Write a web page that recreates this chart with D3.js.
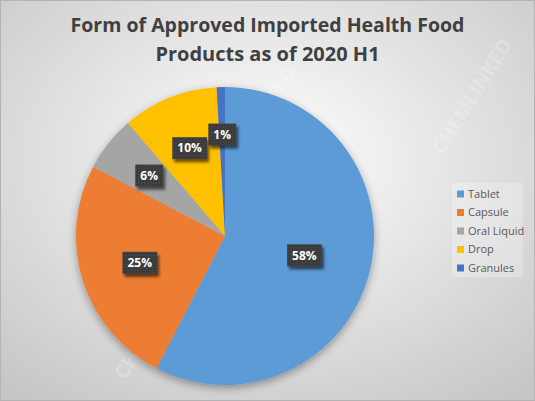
<!DOCTYPE html>
<html>
<head>
<meta charset="utf-8">
<script src="https://cdn.jsdelivr.net/npm/d3@7"></script>
<style>
  body { margin: 0; background: #fff; }
  svg text { font-family: "Open Sans", "Noto Sans", sans-serif; }
</style>
</head>
<body>
<svg id="chart" width="535" height="401"></svg>
<script>
// chart data
var categories = ['Tablet', 'Capsule', 'Oral Liquid', 'Drop', 'Granules'];
var shares = [57.6, 25.1, 6.0, 10.4, 0.9];
var colors = ['#5B9BD5', '#ED7D31', '#A5A5A5', '#FFC000', '#4472C4'];
var titleLines = ['Form of Approved Imported Health Food', 'Products as of 2020 H1'];
var watermark = 'CHEMLINKED';

var width = 535, height = 401;
var svg = d3.select('#chart');
var defs = svg.append('defs');

function addDefs() {
  // background: light in the middle, grey toward the edges
  var bg = defs.append('radialGradient')
    .attr('id', 'bg-grad')
    .attr('cx', '50%').attr('cy', '40%').attr('r', '75%');
  bg.append('stop').attr('offset', '0%').attr('stop-color', '#ffffff');
  bg.append('stop').attr('offset', '100%').attr('stop-color', '#c6c6c6');

  // soft shadow under the pie
  var pieShadow = defs.append('filter').attr('id', 'pie-shadow')
    .attr('x', '-20%').attr('y', '-20%').attr('width', '140%').attr('height', '140%');
  pieShadow.append('feDropShadow')
    .attr('dx', 0).attr('dy', 3).attr('stdDeviation', 4)
    .attr('flood-color', '#000').attr('flood-opacity', 0.35);

  // darker shadow for the data labels
  var lblShadow = defs.append('filter').attr('id', 'lbl-shadow')
    .attr('x', '-30%').attr('y', '-30%').attr('width', '170%').attr('height', '170%');
  lblShadow.append('feDropShadow')
    .attr('dx', 2).attr('dy', 3).attr('stdDeviation', 1.5)
    .attr('flood-color', '#000').attr('flood-opacity', 0.6);

  // dotted fill of the label boxes
  var dots = defs.append('pattern').attr('id', 'dots')
    .attr('width', 3).attr('height', 3).attr('patternUnits', 'userSpaceOnUse');
  dots.append('rect').attr('width', 3).attr('height', 3).attr('fill', '#3a3a3a');
  dots.append('rect').attr('x', 1).attr('y', 1).attr('width', 1).attr('height', 1).attr('fill', '#545454');
}

function drawBackground() {
  svg.append('rect')
    .attr('x', 0.5).attr('y', 0.5)
    .attr('width', width - 1).attr('height', height - 1)
    .style('fill', 'url(#bg-grad)')
    .style('stroke', '#b4b4b4');
}

function drawTitle() {
  var title = svg.append('g').attr('class', 'title');
  title.selectAll('text')
    .data(titleLines)
    .enter().append('text')
    .attr('x', width / 2)
    .attr('y', function(d, i) { return 32 + i * 29; })
    .attr('text-anchor', 'middle')
    .style('font-size', '20px')
    .style('font-weight', 'bold')
    .style('fill', '#404040')
    .text(function(d) { return d; });

  // squeeze to the narrow width of the original typeface
  title.selectAll('text').each(function(d, i) {
    var target = i === 0 ? 394 : 250;
    var w = this.getComputedTextLength();
    if (w > target) d3.select(this).style('font-size', (20 * target / w) + 'px');
  });
}

function drawWatermarks() {
  // faint diagonal stamps, kept inside the frame
  var spots = [[262, 128], [345, 300], [160, 325], [478, 100]];
  svg.append('g').selectAll('text')
    .data(spots)
    .enter().append('text')
    .attr('transform', function(d) { return 'translate(' + d[0] + ',' + d[1] + ') rotate(-58)'; })
    .attr('text-anchor', 'middle')
    .style('font-size', '20px')
    .style('font-weight', 'bold')
    .style('fill', '#ffffff')
    .style('opacity', 0.2)
    .style('pointer-events', 'none')
    .text(watermark);
}

function drawPie() {
  var cx = 225, cy = 236, radius = 149;

  var data = categories.map(function(c, i) {
    return { name: c, value: shares[i], color: colors[i] };
  });
  var total = d3.sum(shares);

  var pie = d3.pie()
    .sort(null)
    .value(function(d) { return d.value; });
  var arc = d3.arc().innerRadius(0).outerRadius(radius);
  var arcs = pie(data);

  var g = svg.append('g').attr('transform', 'translate(' + cx + ',' + cy + ')');

  g.append('g')
    .style('filter', 'url(#pie-shadow)')
    .selectAll('path')
    .data(arcs)
    .enter().append('path')
    .attr('d', arc)
    .style('fill', function(d) { return d.data.color; });

  // labels sit further out in the thin slices, like Excel's best fit
  var labels = g.append('g').selectAll('g')
    .data(arcs)
    .enter().append('g')
    .attr('transform', function(d) {
      var share = d.data.value / total;
      var r = radius * (0.5 + 0.2 * (1 - Math.sqrt(share)));
      var c = d3.arc().innerRadius(r).outerRadius(r).centroid(d);
      return 'translate(' + c[0] + ',' + c[1] + ')';
    });

  labels.append('text')
    .attr('class', 'lbl')
    .attr('text-anchor', 'middle')
    .attr('dy', '0.35em')
    .style('font-size', '12px')
    .style('font-weight', 'bold')
    .style('fill', '#ffffff')
    .text(function(d) { return Math.round(d.data.value / total * 100) + '%'; });

  // box behind each label, sized from the text
  labels.each(function() {
    var grp = d3.select(this);
    var bb = grp.select('text').node().getBBox();
    grp.insert('rect', 'text')
      .attr('x', bb.x - 5).attr('y', -11)
      .attr('width', bb.width + 10).attr('height', 22)
      .style('fill', 'url(#dots)')
      .style('filter', 'url(#lbl-shadow)');
  });
}

function drawLegend() {
  var x0 = 457, y0 = 194, step = 18.5;
  var legend = svg.append('g').attr('class', 'legend');

  legend.append('rect')
    .attr('x', 452).attr('y', 183)
    .attr('width', 71).attr('height', 94)
    .style('fill', '#ffffff').style('opacity', 0.25);

  var rows = legend.selectAll('g.row')
    .data(categories)
    .enter().append('g')
    .attr('class', 'row')
    .attr('transform', function(d, i) { return 'translate(' + x0 + ',' + (y0 + i * step) + ')'; });

  rows.append('rect')
    .attr('x', 0).attr('y', -3.5)
    .attr('width', 7).attr('height', 7)
    .style('fill', function(d, i) { return colors[i]; });

  rows.append('text')
    .attr('x', 11)
    .attr('dy', '0.35em')
    .style('font-size', '11px')
    .style('fill', '#595959')
    .text(function(d) { return d; });
}

addDefs();
drawBackground();
drawWatermarks();
drawTitle();
drawPie();
drawLegend();
</script>
</body>
</html>
